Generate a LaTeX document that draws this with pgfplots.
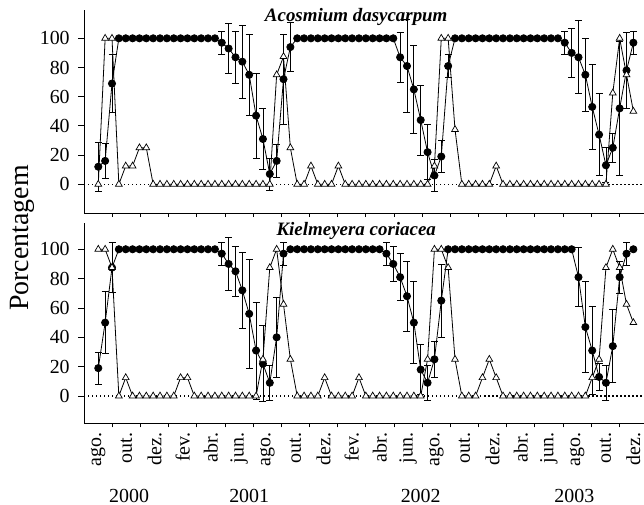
\documentclass[border=0pt]{standalone}
\usepackage{fontspec}
\setmainfont{Liberation Serif}
\usepackage{pgfplots}
\usepackage{pgfplotstable}
\pgfplotsset{compat=1.18}

\pgfplotstableread{
x y e
0 12 17
1 16 12
2 69 20
3 100 0
4 100 0
5 100 0
6 100 0
7 100 0
8 100 0
9 100 0
10 100 0
11 100 0
12 100 0
13 100 0
14 100 0
15 100 0
16 100 0
17 100 0
18 97 8
19 93 17
20 87 18
21 84 25
22 75 28
23 47 29
24 31 21
25 7 11
26 16 11
27 72 31
28 94 17
29 100 0
30 100 0
31 100 0
32 100 0
33 100 0
34 100 0
35 100 0
36 100 0
37 100 0
38 100 0
39 100 0
40 100 0
41 100 0
42 100 0
43 100 0
44 87 17
45 81 32
46 65 30
47 44 24
48 22 19
49 6 11
50 19 11
51 81 8
52 100 0
53 100 0
54 100 0
55 100 0
56 100 0
57 100 0
58 100 0
59 100 0
60 100 0
61 100 0
62 100 0
63 100 0
64 100 0
65 100 0
66 100 0
67 100 0
68 97 8
69 90 17
70 87 25
71 75 25
72 53 29
73 34 28
74 13 12
75 25 10
76 52 46
77 78 26
78 97 8
}\acoC

\pgfplotstableread{
x y
0 0
1 100
2 100
3 0
4 12.5
5 12.5
6 25
7 25
8 0
9 0
10 0
11 0
12 0
13 0
14 0
15 0
16 0
17 0
18 0
19 0
20 0
21 0
22 0
23 0
24 0
25 0
26 75
27 87.5
28 25
29 0
30 0
31 12.5
32 0
33 0
34 0
35 12.5
36 0
37 0
38 0
39 0
40 0
41 0
42 0
43 0
44 0
45 0
46 0
47 0
48 0
49 12.5
50 100
51 100
52 37.5
53 0
54 0
55 0
56 0
57 0
58 12.5
59 0
60 0
61 0
62 0
63 0
64 0
65 0
66 0
67 0
68 0
69 0
70 0
71 0
72 0
73 0
74 0
75 62.5
76 100
77 75
78 50
}\acoT

\pgfplotstableread{
x y e
0 19 11
1 50 21
2 87.5 17
3 100 0
4 100 0
5 100 0
6 100 0
7 100 0
8 100 0
9 100 0
10 100 0
11 100 0
12 100 0
13 100 0
14 100 0
15 100 0
16 100 0
17 100 0
18 97 8
19 90 18
20 85 17
21 72 26
22 56 37
23 31 33
24 22 26
25 9 12
26 40 27
27 97 8
28 100 0
29 100 0
30 100 0
31 100 0
32 100 0
33 100 0
34 100 0
35 100 0
36 100 0
37 100 0
38 100 0
39 100 0
40 100 0
41 100 0
42 97 8
43 90 12
44 81 16
45 68 24
46 50 28
47 18 17
48 9 12
49 25 12
50 65 25
51 100 0
52 100 0
53 100 0
54 100 0
55 100 0
56 100 0
57 100 0
58 100 0
59 100 0
60 100 0
61 100 0
62 100 0
63 100 0
64 100 0
65 100 0
66 100 0
67 100 0
68 100 0
69 100 0
70 81 20
71 47 31
72 31 30
73 13 9
74 9 12
75 34 25
76 81 11
77 97 8
78 100 0
}\kieC

\pgfplotstableread{
x y
0 100
1 100
2 87.5
3 0
4 12.5
5 0
6 0
7 0
8 0
9 0
10 0
11 0
12 12.5
13 12.5
14 0
15 0
16 0
17 0
18 0
19 0
20 0
21 0
22 0
23 0
24 25
25 87.5
26 100
27 62.5
28 25
29 0
30 0
31 0
32 0
33 12.5
34 0
35 0
36 0
37 0
38 12.5
39 0
40 0
41 0
42 0
43 0
44 0
45 0
46 0
47 0
48 25
49 100
50 100
51 87.5
52 25
53 0
54 0
55 0
56 12.5
57 25
58 12.5
59 0
60 0
61 0
62 0
63 0
64 0
65 0
66 0
67 0
68 0
69 0
70 0
71 0
72 12.5
73 25
74 87.5
75 100
76 87.5
77 62.5
78 50
}\kieT

\pgfplotsset{
  panel/.style={
    scale only axis, width=559.8bp,
    xmin=-2.053, xmax=79.55,
    axis x line*=bottom, axis y line*=left,
    axis line style={line width=0.8bp, black},
    tick align=outside,
    ytick={0,20,40,60,80,100},
    xtick={0,4.106,8.212,12.318,16.424,20.53,24.636,28.742,32.848,36.954,41.06,45.166,49.272,53.378,57.484,61.59,65.696,69.802,73.908,78.014},
    minor xtick={2.053,6.159,10.265,14.371,18.477,22.583,26.689,30.795,34.901,39.007,43.113,47.219,51.325,55.431,59.537,63.643,67.749,71.855,75.961},
    major tick length=6bp, minor tick length=4bp,
    major x tick style={draw=none},
    tick style={line width=0.8bp, black},
    tick label style={font=\fontsize{20}{23}\selectfont},
    yticklabel style={xshift=-5bp},
    /pgf/number format/assume math mode=true,
    clip=false,
  },
  circ/.style={black, line width=0.8bp, mark=*, mark size=3.6bp, mark options={solid, fill=black},
    error bars/.cd, y dir=both, y explicit,
    error bar style={line width=0.8bp, black},
    error mark options={rotate=90, mark size=3.5bp, line width=0.8bp, black}},
  tri/.style={black, line width=0.8bp, mark=triangle*, mark size=3.9bp, mark options={solid, fill=white, line width=0.7bp}},
  zero/.style={black, line width=1.3bp, dash pattern=on 1.3bp off 2.7bp, forget plot},
}

\begin{document}
\begin{tikzpicture}
\begin{axis}[panel, at={(0,0)}, anchor=north west, height=203bp, ymin=-19.7, ymax=119.4, xticklabels={}]
\addplot[zero] coordinates {(-2.053,0) (79.55,0)};
\addplot[circ] table[x=x, y=y, y error=e] {\acoC};
\addplot[tri] table[x=x, y=y] {\acoT};
\node[anchor=base, font=\fontsize{19}{22}\selectfont\bfseries\itshape] at (axis cs:37.6,111.4) {Acosmium dasycarpum};
\end{axis}
\begin{axis}[panel, at={(0,-212.7bp)}, anchor=north west, height=200.6bp, ymin=-18.6, ymax=118.1,
  xticklabels={ago.,out.,dez.,fev.,abr.,jun.,ago.,out.,dez.,fev.,abr.,jun.,ago.,out.,dez.,abr.,jun.,ago.,out.,dez.},
  xticklabel style={rotate=90, anchor=east}]
\addplot[zero] coordinates {(-2.053,0) (79.55,0)};
\addplot[circ] table[x=x, y=y, y error=e] {\kieC};
\addplot[tri] table[x=x, y=y] {\kieT};
\node[anchor=base, font=\fontsize{19}{22}\selectfont\bfseries\itshape] at (axis cs:37.6,109.4) {Kielmeyera coriacea};
\begin{scope}[every node/.style={anchor=base, font=\fontsize{20}{23}\selectfont}]
\node at (axis cs:4.5,-72.3) {2000};
\node at (axis cs:22,-72.3) {2001};
\node at (axis cs:47,-72.3) {2002};
\node at (axis cs:69.4,-72.3) {2003};
\end{scope}
\end{axis}
\node[rotate=90, font=\fontsize{28}{32}\selectfont] at (-62.2bp,-228bp) {Porcentagem};
\pgfresetboundingbox
\path[use as bounding box] (-84.2bp,10bp) rectangle (559.8bp,-495bp);
\end{tikzpicture}
\end{document}
